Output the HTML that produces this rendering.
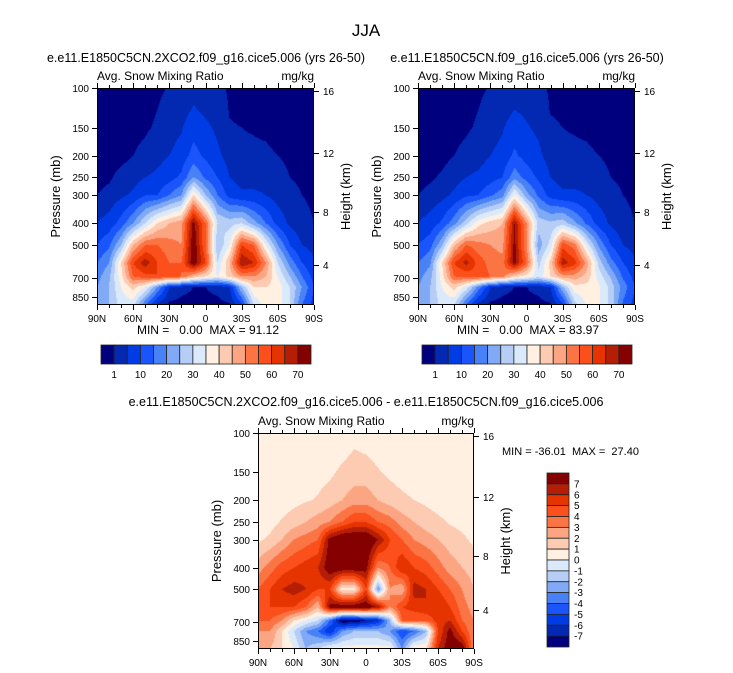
<!DOCTYPE html>
<html><head><meta charset="utf-8">
<style>
html,body{margin:0;padding:0;background:#fff;}
#wrap{position:relative;width:733px;height:673px;overflow:hidden;font-family:"Liberation Sans",sans-serif;}
canvas{position:absolute;}
svg{position:absolute;left:0;top:0;}
</style></head>
<body>
<div id="wrap">
<svg id="ov" width="733" height="673"></svg>
</div>
<script>
const lats=[90,80,70,60,50,40,30,20,10,0,-10,-20,-30,-40,-50,-60,-70,-80,-90];
const pressures=[100,125,150,200,250,300,400,500,600,690,770,925];
const panel1Values=[
[0,0,0,0,0,1,5,10,15,18,20,20],
[0,0,0,0,0.5,2,7,14,20,24,25,25],
[0,0,0,0,2,4,12,25,40,38,35,32],
[0,0,0,1,3,6,20,45,60,55,42,32],
[0,0,0.5,2,5,10,30,55,68,58,35,15],
[0.5,1,1.5,3.5,6,10,40,55,60,60,20,3],
[1.2,2,3,5,8,15,45,52,55,58,5,0],
[2,3,4.5,7,11,20,48,50,55,55,2,0],
[3,5.5,8,12,20,40,72,75,75,45,1,0],
[2.5,4,6,9,14,25,55,55,60,40,1,0],
[2,3,4,6,10,15,30,25,30,35,2,0],
[0.5,0.8,1.2,3,5,8,28,35,45,42,5,0.5],
[0,0.5,1,1.5,3,6,30,60,70,50,25,8],
[0,0,0.8,1.5,3,6,22,55,65,50,40,30],
[0,0,0.5,1.5,3,5,15,35,50,45,40,38],
[0,0,0,1,2,3,8,20,30,35,38,38],
[0,0,0,0.5,1,2,4,10,18,25,30,30],
[0,0,0,0,0.5,1,2,5,10,15,20,15],
[0,0,0,0,0,0.5,1,3,6,8,10,8]];
const panel2Values=[
[0,0,0,0,0,1,5,10,15,18,20,20],
[0,0,0,0,0.5,2,7,13,19,23,25,25],
[0,0,0,0,1.5,3.5,11,24,40,38,35,32],
[0,0,0,1,3,6,18,44,60,55,42,30],
[0,0,0.5,2,5,9,28,55,67,56,33,14],
[0.5,1,1.5,3,6,10,38,52,58,58,18,3],
[1.2,2,3,5,8,14,42,50,53,55,5,0],
[2,3,4.5,6.5,10,18,45,48,52,52,2,0],
[3,5,7.5,11,18,36,70,72,72,42,1,0],
[2.5,4,5.5,8,13,22,50,50,55,38,1,0],
[2,3,4,6,9,14,28,22,28,32,2,0],
[0.5,0.8,1.5,3,5,8,26,32,42,40,5,0.5],
[0,0.5,1,1.5,3,6,28,58,68,48,24,8],
[0,0,0.8,1.5,3,6,21,52,62,48,38,28],
[0,0,0.5,1.5,3,5,14,33,48,43,38,36],
[0,0,0,1,2,3,8,19,28,33,36,36],
[0,0,0,0.5,1,2,4,10,17,24,28,28],
[0,0,0,0,0.5,1,2,5,10,14,18,14],
[0,0,0,0,0,0.5,1,3,6,8,10,8]];
const diffValues=[
[.5,.5,.5,.5,.5,.8,2.5,4,4.5,4,3,3],
[.5,.5,.5,.5,.6,1.2,3.5,5,5,4,3,2],
[.5,.5,.5,.5,1.1,2,4.5,6,5,3,1,1],
[.5,.5,.5,.7,1.5,3,5,6.5,5,1,-1,0],
[.5,.5,.5,.9,2,3.5,5.5,6,4,0,-3,-2],
[.5,.5,.6,1.1,2.5,4,6,5,2,-1,-4,-1],
[.5,.6,.8,1.5,3,7.5,8,5,7.5,-4,-6,.5],
[.5,.8,1.2,2,4,8.5,8,0.5,8,-8,-3,.5],
[.7,1.1,1.5,2.5,5,8.5,8,0.5,8,-8,-2,.5],
[.6,1,1.5,2.5,5,8.5,7.5,5,8,-7,-2,.5],
[.5,.7,1.1,2,4,7,3,-3,7,-6,-2,.5],
[.5,.5,.8,1.5,3.5,5,4,3,3,-2,-3,.5],
[.5,.5,.6,1.2,2.5,4,6,2,5,4,-5,-3],
[.5,.5,.5,1,2,3,5,6.5,5.5,4,-4,1],
[.5,.5,.5,.8,1.5,2.5,4.5,6,6,4,-2,1],
[.5,.5,.5,.6,1.2,2,3.5,5,6,5.5,5,6],
[.5,.5,.5,.5,.9,1.5,2.5,4,5,6,7.5,8],
[.5,.5,.5,.5,.7,1.2,2,3,3.5,4,5,8],
[.5,.5,.5,.5,.5,.8,1.5,2,2.5,3,3,3]];
const absLevels=[1,5,10,15,20,25,30,35,40,45,50,55,60,65,70];
const absTickLabels=['1','10','20','30','40','50','60','70'];
const diffLevels=[-7,-6,-5,-4,-3,-2,-1,0,1,2,3,4,5,6,7];
const pressureTicks=[100,150,200,250,300,400,500,700,850];
const heightTicks=[16,12,8,4];
const heightPressures=[103.5,194,356,616];
const latTicks=[90,60,30,0,-30,-60,-90];
const latTickLabels=['90N','60N','30N','0','30S','60S','90S'];
const colors=['#00007f','#0328b2','#003ce6','#1a55fb','#4882f6','#80aaf6','#b6cdf6','#dbeafb','#fff0e1','#fdcab2','#fca583','#fb7444','#fb4f1c','#e53400','#b41e06','#850000'];

const PTOP=100,PBOT=925;
const NS='http://www.w3.org/2000/svg';
const ov=document.getElementById('ov');
const wrap=document.getElementById('wrap');
function hex(c){return [parseInt(c.substr(1,2),16),parseInt(c.substr(3,2),16),parseInt(c.substr(5,2),16)];}
const rgb=colors.map(hex);
function el(tag,attrs,parent){const e=document.createElementNS(NS,tag);for(const k in attrs)e.setAttribute(k,attrs[k]);(parent||ov).appendChild(e);return e;}
function txt(s,x,y,size,anchor,name,extra){const t=el('text',Object.assign({x:x,y:y,'font-size':size,'text-anchor':anchor||'start',fill:'#000','font-family':'Liberation Sans, sans-serif',style:'white-space:pre'},extra||{}));t.textContent=s;


return t;}
function sample(vals,lat,p){
  let fc=(90-lat)/10; fc=Math.max(0,Math.min(lats.length-1.0001,fc));
  const c0=Math.floor(fc),tc=fc-c0;
  const lp=Math.log(p);let r0=0;
  while(r0<pressures.length-2 && Math.log(pressures[r0+1])<lp) r0++;
  let tr=(lp-Math.log(pressures[r0]))/(Math.log(pressures[r0+1])-Math.log(pressures[r0]));
  tr=Math.max(0,Math.min(1,tr));
  const a=vals[c0][r0]*(1-tr)+vals[c0][r0+1]*tr;
  const b=vals[c0+1][r0]*(1-tr)+vals[c0+1][r0+1]*tr;
  return a*(1-tc)+b*tc;
}
function levelIndex(v,levels){let i=0;while(i<levels.length && v>=levels[i]) i++;return i;}

function panel(name,x0,y0,w,h,vals,levels){
  const yOf=p=>y0+h*Math.log(p/PTOP)/Math.log(PBOT/PTOP);
  const xOf=lat=>x0+w*(90-lat)/180;
  const cv=document.createElement('canvas');
  cv.width=w;cv.height=h;cv.style.left=x0+'px';cv.style.top=y0+'px';
  
  
  wrap.insertBefore(cv,ov);
  const ctx=cv.getContext('2d');const img=ctx.createImageData(w,h);
  for(let j=0;j<h;j++){
    const p=PTOP*Math.pow(PBOT/PTOP,(j+0.5)/h);
    for(let i=0;i<w;i++){
      const lat=90-180*(i+0.5)/w;
      const c=rgb[levelIndex(sample(vals,lat,p),levels)];
      const k=(j*w+i)*4;img.data[k]=c[0];img.data[k+1]=c[1];img.data[k+2]=c[2];img.data[k+3]=255;
    }
  }
  ctx.putImageData(img,0,0);
  const g=el('g',{});
  
  
  const fr=el('rect',{x:x0+0.5,y:y0+0.5,width:w-1,height:h-1,fill:'none',stroke:'#000','stroke-width':1},g);
  
  
  pressureTicks.forEach(p=>{const y=Math.round(yOf(p))+0.5;
    el('line',{x1:x0-5,x2:x0,y1:y,y2:y,stroke:'#000'},g);
    txt(String(p),x0-8,y+3.5,10,'end',name+'-pressure-tick-label');});
  heightTicks.forEach((z,i)=>{const y=Math.round(yOf(heightPressures[i]))+0.5;
    el('line',{x1:x0+w,x2:x0+w+5,y1:y,y2:y,stroke:'#000'},g);
    txt(String(z),x0+w+9,y+3.5,10,'start',name+'-height-tick-label');});
  for(let lat=90;lat>=-90;lat-=10){const x=Math.round(xOf(lat))+0.5;const L=(lat%30===0)?5:3;
    el('line',{x1:x,x2:x,y1:y0+h,y2:y0+h+L,stroke:'#000'},g);
    el('line',{x1:x,x2:x,y1:y0-L,y2:y0,stroke:'#000'},g);}
  latTicks.forEach((lat,i)=>txt(latTickLabels[i],xOf(lat),y0+h+17,10,'middle',name+'-lat-tick-label'));
  txt('Pressure (mb)',0,0,13,'middle',name+'-y-axis-title',{transform:`translate(${x0-37},${y0+h*0.5}) rotate(-90)`});
  txt('Height (km)',0,0,13,'middle',name+'-right-axis-title',{transform:`translate(${x0+w+36},${y0+h*0.5}) rotate(-90)`});
  txt('Avg. Snow Mixing Ratio',x0,y0-8,12,'start',name+'-variable-label');
  txt('mg/kg',x0+w,y0-8,12,'end',name+'-units-label');
}
function hbar(name,x0,y0,w,h){
  const bw=w/16;
  colors.forEach((c,i)=>{const r=el('rect',{x:x0+i*bw,y:y0,width:bw,height:h,fill:c,stroke:'#222','stroke-width':0.8});
    
    });
  absTickLabels.forEach((s,i)=>txt(s,x0+(1+2*i)*bw,y0+h+14,10,'middle',name+'-label'));
}
function vbar(name,x0,y0,w,h){
  const bh=h/16;
  colors.slice().reverse().forEach((c,i)=>{const r=el('rect',{x:x0,y:y0+i*bh,width:w,height:bh,fill:c,stroke:'#222','stroke-width':0.8});
    
    });
  diffLevels.slice().reverse().forEach((v,i)=>txt(String(v),x0+w+5,y0+(i+1)*bh+3.5,10,'start',name+'-label'));
}
txt('JJA',366,36,17,'middle','figure-title');
txt('e.e11.E1850C5CN.2XCO2.f09_g16.cice5.006 (yrs 26-50)',206,62,12.5,'middle','panel1-title');
txt('e.e11.E1850C5CN.f09_g16.cice5.006 (yrs 26-50)',527,62,12.5,'middle','panel2-title');
txt('e.e11.E1850C5CN.2XCO2.f09_g16.cice5.006 - e.e11.E1850C5CN.f09_g16.cice5.006',366,406,12.5,'middle','panel3-title');
panel('panel1',97,88,217,217,panel1Values,absLevels);
panel('panel2',418,88,217,217,panel2Values,absLevels);
panel('panel3',258,433,216,216,diffValues,diffLevels);
txt('MIN =   0.00  MAX = 91.12',208,334,12,'middle','panel1-min-max');
txt('MIN =   0.00  MAX = 83.97',528,334,12,'middle','panel2-min-max');
txt('MIN = -36.01  MAX =  27.40',502,455,11,'start','panel3-min-max');
hbar('panel1-colorbar',101,345,210,19);
hbar('panel2-colorbar',422,345,210,19);
vbar('panel3-colorbar',547,473,22,174);
</script>
</body></html>
